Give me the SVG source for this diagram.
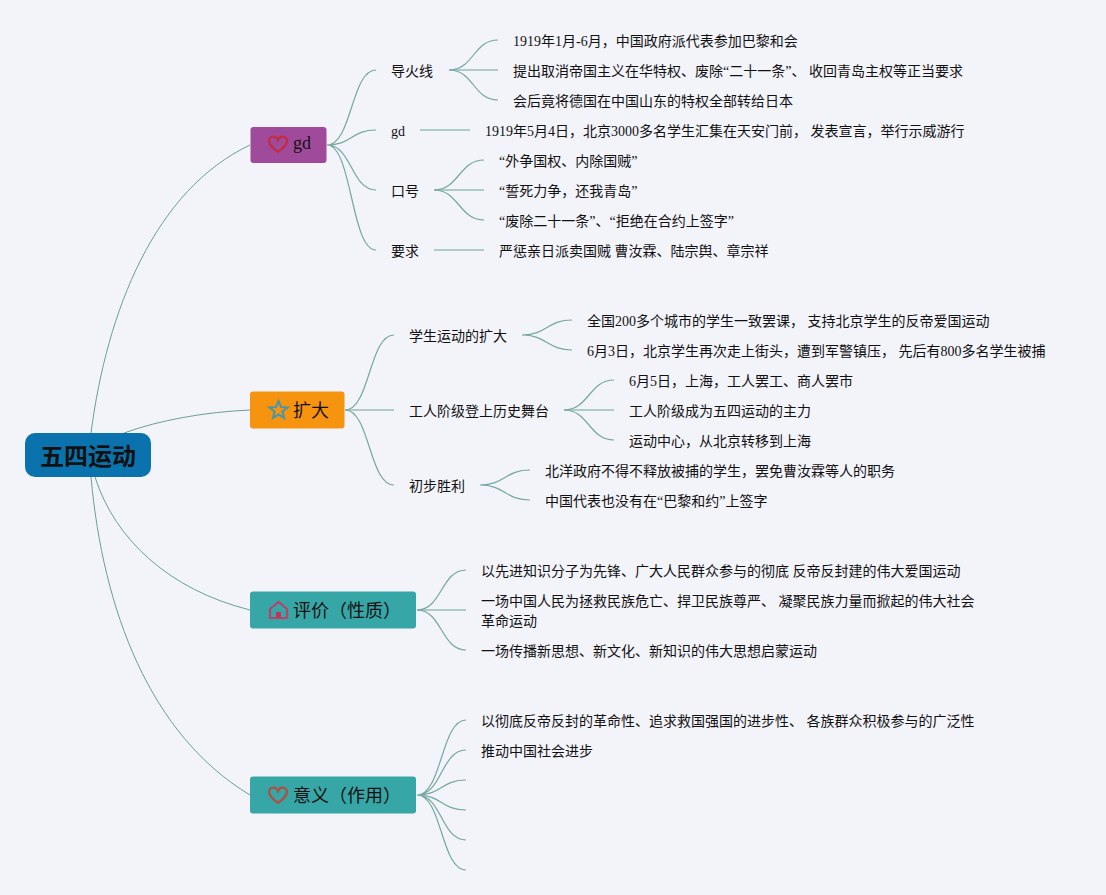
<svg xmlns="http://www.w3.org/2000/svg" width="1106" height="895" viewBox="0 0 1106 895">
<style>
text{font-family:"Liberation Serif","Noto Sans CJK SC",sans-serif;font-size:14px;fill:#111}
.r{fill:none;stroke:#6a9f98;stroke-width:1}
.c{fill:none;stroke:#74a8a0;stroke-width:1.2}
.s{fill:none;stroke:#96c0b8;stroke-width:1.5}
.m{font-size:18px}
.i{fill:none;stroke-width:2.2}
</style>
<rect width="1106" height="895" fill="#f3f3fa"/>
<g id="connectors">
<path class="r" d="M91 433C107 310 155 190 250 145M124 433C160 420 205 412 250 410M95 477C115 540 170 590 250 610M91 477C103 610 150 735 250 795"/>
<path class="c" d="M327 145C352 145 351 70 376 70M327 145C352 145 351 130 376 130M327 145C352 145 351 190 376 190M327 145C352 145 351 250 376 250"/>
<path class="s" d="M449 70H498M434 190H484M434 250H484M420 130H470M345 410H394M564 410H614M417 610H466"/>
<path class="c" d="M449 70C474 70 473 40 498 40M449 70C474 70 473 100 498 100M434 190C459 190 459 160 484 160M434 190C459 190 459 220 484 220"/>
<path class="c" d="M345 410C370 410 369 335 394 335M345 410C370 410 369 485 394 485"/>
<path class="c" d="M522 335C547 335 547 320 572 320M522 335C547 335 547 350 572 350M564 410C589 410 589 380 614 380M564 410C589 410 589 440 614 440M480 485C505 485 505 470 530 470M480 485C505 485 505 500 530 500"/>
<path class="c" d="M417 610C442 610 441 570 466 570M417 610C442 610 441 650 466 650"/>
<path class="c" d="M417 795C442 795 441 720 466 720M417 795C442 795 441 750 466 750M417 795C442 795 441 780 466 780M417 795C442 795 441 810 466 810M417 795C442 795 441 840 466 840M417 795C442 795 441 870 466 870"/>
</g>
<g id="root"><rect x="25" y="433" width="126" height="44" rx="10" fill="#0a73ae"/><text x="88" y="465" text-anchor="middle" style="font-size:24px;font-weight:bold">五四运动</text></g>
<g id="n-gd"><rect x="250.500" y="127" width="76" height="36" rx="3" fill="#a04a9b"/>
<path class="i" stroke="#c42c42" d="M278 152C273 148 269 145 269 141C269 136 276 135 278 140C280 135 287 136 287 141C287 145 283 148 278 152Z"/>
<text x="293" y="149" class="m">gd</text></g>
<g id="n-expand"><rect x="250" y="391.500" width="94.500" height="37" rx="3" fill="#f7940f"/>
<path class="i" stroke="#4f95a5" d="M278.500 401L281 407L287.500 407.500L282.500 411.500L284 418L278.500 414.500L273 418L274.500 411.500L269.500 407.500L276 407Z"/>
<text x="293" y="417" class="m">扩大</text></g>
<g id="n-eval"><rect x="250" y="591.500" width="166" height="37" rx="3" fill="#37a6a6"/>
<path class="i" stroke="#b8446a" stroke-width="1.500" d="M270 609L278.500 602L287 609V618H270Z"/><rect x="276" y="612" width="5" height="6" fill="#c8305a"/>
<text x="293" y="617" class="m">评价（性质）</text></g>
<g id="n-mean"><rect x="250" y="776.500" width="166" height="37" rx="3" fill="#37a6a6"/>
<path class="i" stroke="#b05040" d="M278 803C273 799 269 796 269 792C269 787 276 786 278 791C280 786 287 787 287 792C287 796 283 799 278 803Z"/>
<text x="293" y="802" class="m">意义（作用）</text></g>
<g id="labels">
<text x="391" y="76">导火线</text>
<text x="513" y="46">1919年1月-6月，中国政府派代表参加巴黎和会</text>
<text x="513" y="76">提出取消帝国主义在华特权、废除“二十一条”、 收回青岛主权等正当要求</text>
<text x="513" y="106">会后竟将德国在中国山东的特权全部转给日本</text>
<text x="391" y="136">gd</text>
<text x="485" y="136">1919年5月4日，北京3000多名学生汇集在天安门前， 发表宣言，举行示威游行</text>
<text x="391" y="196">口号</text>
<text x="499" y="166">“外争国权、内除国贼”</text>
<text x="499" y="196">“誓死力争，还我青岛”</text>
<text x="499" y="226">“废除二十一条”、“拒绝在合约上签字”</text>
<text x="391" y="256">要求</text>
<text x="499" y="256">严惩亲日派卖国贼 曹汝霖、陆宗舆、章宗祥</text>
<text x="409" y="341">学生运动的扩大</text>
<text x="587" y="326">全国200多个城市的学生一致罢课， 支持北京学生的反帝爱国运动</text>
<text x="587" y="356">6月3日，北京学生再次走上街头，遭到军警镇压， 先后有800多名学生被捕</text>
<text x="409" y="416">工人阶级登上历史舞台</text>
<text x="629" y="386">6月5日，上海，工人罢工、商人罢市</text>
<text x="629" y="416">工人阶级成为五四运动的主力</text>
<text x="629" y="446">运动中心，从北京转移到上海</text>
<text x="409" y="491">初步胜利</text>
<text x="545" y="476">北洋政府不得不释放被捕的学生，罢免曹汝霖等人的职务</text>
<text x="545" y="506">中国代表也没有在“巴黎和约”上签字</text>
<text x="481" y="576">以先进知识分子为先锋、广大人民群众参与的彻底 反帝反封建的伟大爱国运动</text>
<text x="481" y="606">一场中国人民为拯救民族危亡、捍卫民族尊严、 凝聚民族力量而掀起的伟大社会</text>
<text x="481" y="626">革命运动</text>
<text x="481" y="656">一场传播新思想、新文化、新知识的伟大思想启蒙运动</text>
<text x="481" y="726">以彻底反帝反封的革命性、追求救国强国的进步性、 各族群众积极参与的广泛性</text>
<text x="481" y="756">推动中国社会进步</text>
</g>
</svg>
